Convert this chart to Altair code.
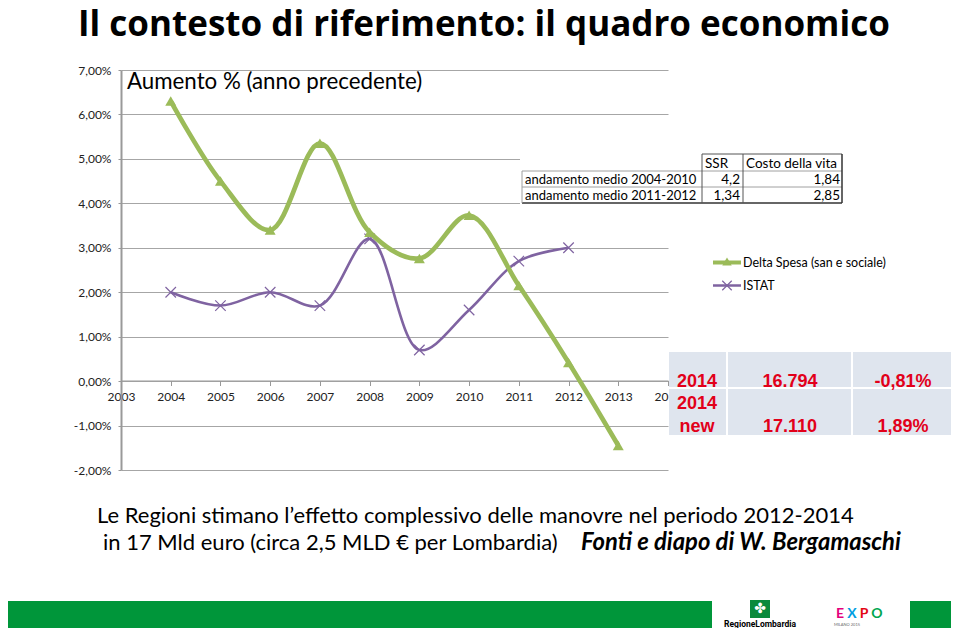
import altair as alt
import pandas as pd

# ---------------- data ----------------
years = list(range(2003, 2015))
delta_years = [2004, 2005, 2006, 2007, 2008, 2009, 2010, 2011, 2012, 2013]
delta_vals = [6.30, 4.50, 3.40, 5.35, 3.35, 2.76, 3.73, 2.15, 0.42, -1.45]
istat_years = [2004, 2005, 2006, 2007, 2008, 2009, 2010, 2011, 2012]
istat_vals = [2.0, 1.7, 2.0, 1.7, 3.2, 0.7, 1.6, 2.7, 3.0]
series_names = ["Delta Spesa (san e sociale)", "ISTAT"]
y_ticks = [-2, -1, 0, 1, 2, 3, 4, 5, 6, 7]

title_text = "Il contesto di riferimento: il quadro economico"
inner_title = "Aumento % (anno precedente)"
note_line1 = "Le Regioni stimano l\u2019effetto complessivo delle manovre nel periodo 2012-2014"
note_line2 = "in 17 Mld euro (circa 2,5 MLD \u20ac per Lombardia)"
note_bold = "Fonti e diapo di  W. Bergamaschi"

tab1_header = ["SSR", "Costo della vita"]
tab1_rows = ["andamento medio 2004-2010", "andamento medio 2011-2012"]
tab1_ssr = ["4,2", "1,34"]
tab1_cv = ["1,84", "2,85"]

tab2_years = ["2014", "2014"]
tab2_vals = ["16.794", "17.110"]
tab2_pct = ["-0,81%", "1,89%"]

GREEN = "#9BBB59"
PURPLE = "#7F63A1"
RED = "#E2001A"
FONT = "Lato"

df_delta = pd.DataFrame({"year": delta_years, "value": delta_vals, "series": series_names[0]})
df_istat = pd.DataFrame({"year": istat_years, "value": istat_vals, "series": series_names[1]})

# plot-area origin on the page
OX, OY = 121, 70
W, H = 547, 400

X = alt.X("year:Q",
          scale=alt.Scale(domain=[2003, 2014], nice=False, zero=False),
          axis=alt.Axis(values=years, format="d", grid=False, offset=-89.5,
                        labelFlush=False, labelOverlap=False,
                        labelFont=FONT, labelFontSize=12, labelColor="#222",
                        tickColor="#999", domainColor="#999", tickSize=5,
                        labelPadding=6, title=None))
Y = alt.Y("value:Q",
          scale=alt.Scale(domain=[-2, 7], nice=False, zero=False),
          axis=alt.Axis(values=y_ticks,
                        labelExpr="replace(replace(format(datum.value, '.2f'), '.', ','), '\u2212', '-') + '%'",
                        grid=True, gridColor="#A6A6A6", gridWidth=1,
                        labelFlush=False,
                        domainColor="#999", domainWidth=2, tickColor="#999",
                        tickSize=3, labelPadding=7,
                        labelFont=FONT, labelFontSize=12, labelColor="#222",
                        title=None))

purple_line = alt.Chart(df_istat).mark_line(color=PURPLE, strokeWidth=2.6,
                                            interpolate="catmull-rom").encode(x=X, y=Y)
purple_pts = alt.Chart(df_istat).mark_point(shape="M-1,-1L1,1M-1,1L1,-1", filled=False,
                                            size=110, strokeWidth=1.2, color=PURPLE,
                                            opacity=1).encode(x="year:Q", y="value:Q")
green_line = alt.Chart(df_delta).mark_line(color=GREEN, strokeWidth=4.7,
                                           interpolate="catmull-rom").encode(x="year:Q", y="value:Q")
green_pts = alt.Chart(df_delta).mark_point(shape="triangle-up", filled=True, size=120,
                                           color=GREEN, opacity=1).encode(x="year:Q", y="value:Q")


def one(**kw):
    return alt.Chart(alt.Data(values=[dict(t="", **kw)]))


def txt(s, x, y, size, color="black", weight="normal", align="left",
        baseline="alphabetic", font=FONT, style=None):
    kw = dict(font=font, fontSize=size, fontWeight=weight, color=color,
              align=align, baseline=baseline)
    if style:
        kw["fontStyle"] = style
    return alt.Chart(alt.Data(values=[{"t": s}])).mark_text(**kw).encode(
        x=alt.value(x - OX), y=alt.value(y - OY), text="t:N")


def rect(x1, x2, y1, y2, color):
    return one().mark_rect(color=color).encode(
        x=alt.value(x1 - OX), x2=alt.value(x2 - OX),
        y=alt.value(y1 - OY), y2=alt.value(y2 - OY))


def hrule(x1, x2, y, color, w=1):
    return one().mark_rule(color=color, strokeWidth=w).encode(
        x=alt.value(x1 - OX), x2=alt.value(x2 - OX), y=alt.value(y - OY))


def vrule(x, y1, y2, color, w=1):
    return one().mark_rule(color=color, strokeWidth=w).encode(
        x=alt.value(x - OX), y=alt.value(y1 - OY), y2=alt.value(y2 - OY))


layers = [purple_line, purple_pts, green_line, green_pts]

# titles
layers.append(txt(title_text, 78, 36, 35, weight="bold", font="Open Sans"))
layers.append(txt(inner_title, 127, 89, 22.3))

# top-right pasted table
layers.append(rect(520, 846, 153, 207, "white"))
for yy in (171, 187):
    layers.append(hrule(522, 842, yy, "#A0A0A0"))
layers.append(hrule(702, 842, 154, "#555"))
layers.append(hrule(522, 842, 203, "#333", 1.5))
layers.append(vrule(522, 171, 203, "#A0A0A0"))
layers.append(vrule(702, 154, 203, "#555"))
layers.append(vrule(743, 154, 203, "#555"))
layers.append(vrule(842, 154, 203, "#333", 1.5))
layers.append(txt(tab1_header[0], 705, 168, 13.5))
layers.append(txt(tab1_header[1], 746, 168, 13.5))
for i, yy in enumerate((184, 200)):
    layers.append(txt(tab1_rows[i], 525, yy, 13))
    layers.append(txt(tab1_ssr[i], 740, yy, 13.5, align="right"))
    layers.append(txt(tab1_cv[i], 840, yy, 13.5, align="right"))

# legend
layers.append(hrule(713, 741, 262.5, GREEN, 4))
layers.append(one().mark_point(shape="triangle-up", filled=True, size=90, color=GREEN,
                               opacity=1).encode(x=alt.value(727 - OX), y=alt.value(261.5 - OY)))
layers.append(txt(series_names[0], 743, 266.5, 12.5))
layers.append(hrule(713, 741, 285.5, PURPLE, 2.5))
layers.append(one().mark_point(shape="M-1,-1L1,1M-1,1L1,-1", filled=False, size=90,
                               strokeWidth=1.2, color=PURPLE, opacity=1).encode(
    x=alt.value(727 - OX), y=alt.value(285.5 - OY)))
layers.append(txt(series_names[1], 743, 290, 12.5))

# bottom-right table
CELL = "#DFE5EE"
for (x1, x2) in ((669, 726), (728, 851), (853, 960)):
    layers.append(rect(x1, x2, 352, 387, CELL))
    layers.append(rect(x1, x2, 389, 435, CELL))
TF = "Liberation Sans"
layers.append(txt(tab2_years[0], 697, 386.5, 18, color=RED, weight="bold", align="center", font=TF))
layers.append(txt(tab2_vals[0], 790, 386.5, 18, color=RED, weight="bold", align="center", font=TF))
layers.append(txt(tab2_pct[0], 903, 386.5, 18, color=RED, weight="bold", align="center", font=TF))
layers.append(txt(tab2_years[1], 697, 408.5, 18, color=RED, weight="bold", align="center", font=TF))
layers.append(txt("new", 697, 432, 18, color=RED, weight="bold", align="center", font=TF))
layers.append(txt(tab2_vals[1], 790, 432, 18, color=RED, weight="bold", align="center", font=TF))
layers.append(txt(tab2_pct[1], 903, 432, 18, color=RED, weight="bold", align="center", font=TF))

# notes
layers.append(txt(note_line1, 97, 523, 22))
layers.append(txt(note_line2, 103, 550, 22))
layers.append(txt(note_bold, 581, 550, 23.8, weight="bold", style="italic"))

# footer
layers.append(rect(5, 712, 601, 640, "#00963A"))
layers.append(rect(910, 960, 601, 640, "#00963A"))
layers.append(rect(750, 770, 600, 618, "#0A8A3C"))
layers.append(txt("\u2724", 760, 609, 14, color="white", align="center", baseline="middle",
                  font="DejaVu Sans"))
layers.append(txt("RegioneLombardia", 760, 627, 8.5, weight="bold", align="center", font="Roboto"))
for ch, xx, col in (("E", 840, "#E4007C"), ("X", 852, "#009EE2"),
                    ("P", 864, "#E30613"), ("O", 877, "#00A650")):
    layers.append(txt(ch, xx, 618, 14, color=col, weight="bold", align="center"))
layers.append(txt("MILANO 2015", 847, 626, 4, color="#666", align="center"))

chart = alt.layer(*layers).properties(
    width=W, height=H,
    autosize=alt.AutoSizeParams(type="none"),
    padding={"left": OX - 8, "top": OY - 8, "right": 943 - (OX - 8) - W, "bottom": 620 - (OY - 8) - H},
    background="white",
).configure_view(stroke=None)

chart.save("out.html", embed_options={"renderer": "svg", "actions": False})
